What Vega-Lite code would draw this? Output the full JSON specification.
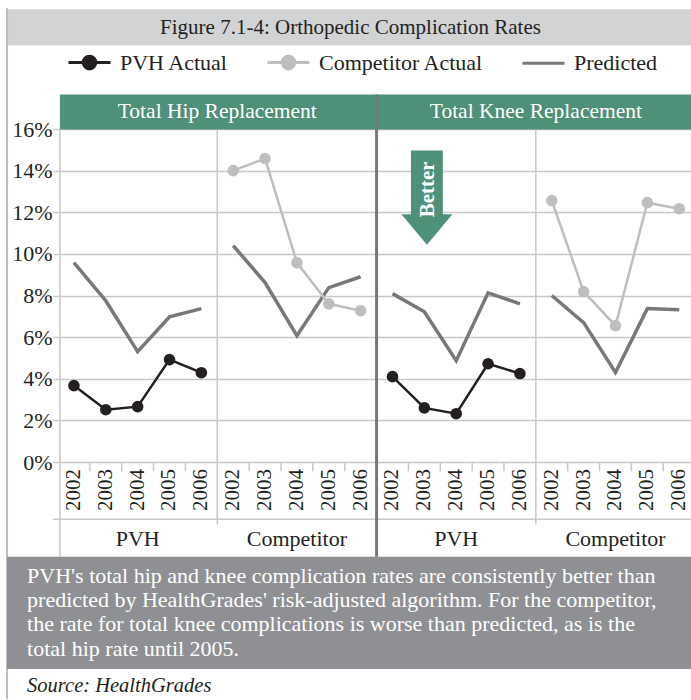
{
"$schema":"https://vega.github.io/schema/vega-lite/v6.json",
"autosize":{"type":"none"},
"padding":{"left":58,"top":129,"right":0,"bottom":238},
"width":633,"height":333,
"background":"white",
"view":{"stroke":null},
"config":{"font":"Liberation Serif","text":{"font":"Liberation Serif"}},
"title":{"text":"Figure 7.1-4: Orthopedic Complication Rates","font":"Liberation Serif","fontSize":21,"fontWeight":"normal","color":"#231f20","anchor":"middle","frame":"group","dx":-24,"offset":-31},
"data":{"values":[
{"panel":"Hip","group":"PVH","series":"PVH Actual","year":2002,"value":3.67},
{"panel":"Hip","group":"PVH","series":"PVH Actual","year":2003,"value":2.51},
{"panel":"Hip","group":"PVH","series":"PVH Actual","year":2004,"value":2.66},
{"panel":"Hip","group":"PVH","series":"PVH Actual","year":2005,"value":4.92},
{"panel":"Hip","group":"PVH","series":"PVH Actual","year":2006,"value":4.29},
{"panel":"Hip","group":"PVH","series":"Predicted","year":2002,"value":9.58},
{"panel":"Hip","group":"PVH","series":"Predicted","year":2003,"value":7.75},
{"panel":"Hip","group":"PVH","series":"Predicted","year":2004,"value":5.3},
{"panel":"Hip","group":"PVH","series":"Predicted","year":2005,"value":6.98},
{"panel":"Hip","group":"PVH","series":"Predicted","year":2006,"value":7.37},
{"panel":"Hip","group":"Competitor","series":"Competitor Actual","year":2002,"value":14.0},
{"panel":"Hip","group":"Competitor","series":"Competitor Actual","year":2003,"value":14.58},
{"panel":"Hip","group":"Competitor","series":"Competitor Actual","year":2004,"value":9.58},
{"panel":"Hip","group":"Competitor","series":"Competitor Actual","year":2005,"value":7.6},
{"panel":"Hip","group":"Competitor","series":"Competitor Actual","year":2006,"value":7.27},
{"panel":"Hip","group":"Competitor","series":"Predicted","year":2002,"value":10.4},
{"panel":"Hip","group":"Competitor","series":"Predicted","year":2003,"value":8.62},
{"panel":"Hip","group":"Competitor","series":"Predicted","year":2004,"value":6.07},
{"panel":"Hip","group":"Competitor","series":"Predicted","year":2005,"value":8.38},
{"panel":"Hip","group":"Competitor","series":"Predicted","year":2006,"value":8.9},
{"panel":"Knee","group":"PVH","series":"PVH Actual","year":2002,"value":4.1},
{"panel":"Knee","group":"PVH","series":"PVH Actual","year":2003,"value":2.6},
{"panel":"Knee","group":"PVH","series":"PVH Actual","year":2004,"value":2.32},
{"panel":"Knee","group":"PVH","series":"PVH Actual","year":2005,"value":4.72},
{"panel":"Knee","group":"PVH","series":"PVH Actual","year":2006,"value":4.25},
{"panel":"Knee","group":"PVH","series":"Predicted","year":2002,"value":8.09},
{"panel":"Knee","group":"PVH","series":"Predicted","year":2003,"value":7.22},
{"panel":"Knee","group":"PVH","series":"Predicted","year":2004,"value":4.87},
{"panel":"Knee","group":"PVH","series":"Predicted","year":2005,"value":8.13},
{"panel":"Knee","group":"PVH","series":"Predicted","year":2006,"value":7.6},
{"panel":"Knee","group":"Competitor","series":"Competitor Actual","year":2002,"value":12.56},
{"panel":"Knee","group":"Competitor","series":"Competitor Actual","year":2003,"value":8.19},
{"panel":"Knee","group":"Competitor","series":"Competitor Actual","year":2004,"value":6.55},
{"panel":"Knee","group":"Competitor","series":"Competitor Actual","year":2005,"value":12.46},
{"panel":"Knee","group":"Competitor","series":"Competitor Actual","year":2006,"value":12.17},
{"panel":"Knee","group":"Competitor","series":"Predicted","year":2002,"value":8.0},
{"panel":"Knee","group":"Competitor","series":"Predicted","year":2003,"value":6.7},
{"panel":"Knee","group":"Competitor","series":"Predicted","year":2004,"value":4.3},
{"panel":"Knee","group":"Competitor","series":"Predicted","year":2005,"value":7.37},
{"panel":"Knee","group":"Competitor","series":"Predicted","year":2006,"value":7.32}
]},
"transform":[{"calculate":"(datum.panel=='Knee'?10:0)+(datum.group=='Competitor'?5:0)+(datum.year-2002)+0.5","as":"pos"}],
"layer":[
{"data":{"values":[{}]},"transform":[],"mark":{"type":"rect","fill":"#d1d3d4"},
 "encoding":{"x":{"datum":-1.6,"type":"quantitative","scale":{"domain":[0,19.87],"nice":false,"zero":false},"axis":null},
  "x2":{"datum":19.87},
  "y":{"datum":20.03,"type":"quantitative","scale":{"domain":[0,16],"nice":false,"zero":false},
   "axis":{"values":[0,2,4,6,8,10,12,14,16],"labelExpr":"datum.value+'%'","labelFontSize":22,"labelColor":"#231f20","labelPadding":1,"tickSize":5,"tickColor":"#c8c8c8","tickWidth":1.5,"domain":false,"grid":true,"gridColor":"#c8c8c8","gridWidth":1.5,"title":null}},
  "y2":{"datum":21.75}}},
{"data":{"values":[{}]},"transform":[],"mark":{"type":"rule","stroke":"#bcbec0","strokeWidth":2},
 "encoding":{"x":{"datum":-1.6,"type":"quantitative"},"y":{"datum":21.8,"type":"quantitative"},"y2":{"datum":-11.4}}},
{"data":{"values":[{}]},"transform":[],"mark":{"type":"rect","fill":"#4f9078"},
 "encoding":{"x":{"datum":0.06,"type":"quantitative"},"x2":{"datum":19.87},"y":{"datum":15.97,"type":"quantitative"},"y2":{"datum":17.66}}},
{"data":{"values":[{}]},"transform":[],"mark":{"type":"rect","fill":"#8f9093"},
 "encoding":{"x":{"datum":-1.6,"type":"quantitative"},"x2":{"datum":19.87},"y":{"datum":-4.55,"type":"quantitative"},"y2":{"datum":-9.95}}},
{"data":{"values":[{}]},"transform":[],"mark":{"type":"rule","stroke":"#c8c8c8","strokeWidth":1.5},
 "encoding":{"x":{"datum":-0.16,"type":"quantitative"},"x2":{"datum":19.87},"y":{"datum":-2.75,"type":"quantitative"}}},
{"data":{"values":[{"b":1},{"b":2},{"b":3},{"b":4},{"b":6},{"b":7},{"b":8},{"b":9},{"b":11},{"b":12},{"b":13},{"b":14},{"b":16},{"b":17},{"b":18},{"b":19}]},"transform":[],
 "mark":{"type":"rule","stroke":"#c8c8c8","strokeWidth":1.5},
 "encoding":{"x":{"field":"b","type":"quantitative"},"y":{"datum":0,"type":"quantitative"},"y2":{"datum":-0.45}}},
{"data":{"values":[{"b":5},{"b":15}]},"transform":[],"mark":{"type":"rule","stroke":"#c8c8c8","strokeWidth":1.5},
 "encoding":{"x":{"field":"b","type":"quantitative"},"y":{"datum":15.95,"type":"quantitative"},"y2":{"datum":-3}}},
{"data":{"values":[{}]},"transform":[],"mark":{"type":"rule","stroke":"#c8c8c8","strokeWidth":1.5},
 "encoding":{"x":{"datum":0.06,"type":"quantitative"},"y":{"datum":15.95,"type":"quantitative"},"y2":{"datum":-4.55}}},
{"data":{"values":[{}]},"transform":[],"mark":{"type":"rule","stroke":"#77787b","strokeWidth":3},
 "encoding":{"x":{"datum":10,"type":"quantitative"},"y":{"datum":17.66,"type":"quantitative"},"y2":{"datum":-4.55}}},
{"mark":{"type":"text","angle":270,"align":"right","baseline":"middle","fontSize":21,"color":"#231f20"},"transform":[{"filter":"datum.series=='Predicted'"}],
 "encoding":{"x":{"field":"pos","type":"quantitative"},"y":{"datum":-0.34,"type":"quantitative"},"text":{"field":"year","type":"nominal"}}},
{"mark":{"type":"line","strokeWidth":3.5},"transform":[{"filter":"datum.series=='Predicted'"}],
 "encoding":{"x":{"field":"pos","type":"quantitative"},"y":{"field":"value","type":"quantitative"},
  "detail":[{"field":"panel"},{"field":"group"}],
  "color":{"field":"series","type":"nominal","scale":{"domain":["PVH Actual","Competitor Actual","Predicted"],"range":["#231f20","#bcbec0","#77787b"]},
   "legend":{"orient":"none","legendX":9,"legendY":-89,"direction":"horizontal","columns":3,"columnPadding":32,"title":null,"symbolType":"stroke","symbolSize":1764,"symbolStrokeWidth":3,"labelFont":"Liberation Serif","labelFontSize":22,"labelColor":"#231f20","labelLimit":300,"labelOffset":8,"symbolOpacity":1,
    "encode":{"symbols":{"update":{"shape":{"signal":"datum.value=='Predicted'?'stroke':'M-1,0L1,0M0.3,0A0.3,0.3 0 1 1 -0.3,0A0.3,0.3 0 1 1 0.3,0Z'"},"fill":{"signal":"datum.value=='Predicted'?'transparent':scale('color',datum.value)"}}}}}}}},
{"mark":{"type":"line","strokeWidth":2.5},"transform":[{"filter":"datum.series!='Predicted'"}],
 "encoding":{"x":{"field":"pos","type":"quantitative"},"y":{"field":"value","type":"quantitative"},
  "detail":[{"field":"panel"},{"field":"group"}],
  "color":{"field":"series","type":"nominal"}}},
{"mark":{"type":"point","filled":true,"size":135,"opacity":1},"transform":[{"filter":"datum.series!='Predicted'"}],
 "encoding":{"x":{"field":"pos","type":"quantitative"},"y":{"field":"value","type":"quantitative"},
  "color":{"field":"series","type":"nominal"}}},
{"data":{"values":[{"panel":"Hip","banner":"Total Hip Replacement"},{"panel":"Knee","banner":"Total Knee Replacement"}]},
 "transform":[{"calculate":"datum.panel=='Knee'?15:5","as":"c"}],
 "mark":{"type":"text","fontSize":21.5,"color":"white","baseline":"middle"},
 "encoding":{"x":{"field":"c","type":"quantitative"},"y":{"datum":16.82,"type":"quantitative"},"text":{"field":"banner"}}},
{"data":{"values":[{"panel":"Hip","group":"PVH"},{"panel":"Hip","group":"Competitor"},{"panel":"Knee","group":"PVH"},{"panel":"Knee","group":"Competitor"}]},
 "transform":[{"calculate":"(datum.panel=='Knee'?10:0)+(datum.group=='Competitor'?5:0)+2.5","as":"c"}],
 "mark":{"type":"text","fontSize":22,"color":"#231f20","baseline":"middle"},
 "encoding":{"x":{"field":"c","type":"quantitative"},"y":{"datum":-3.7,"type":"quantitative"},"text":{"field":"group"}}},
{"data":{"values":[{}]},"transform":[],"mark":{"type":"rect","fill":"#4f9078"},
 "encoding":{"x":{"datum":11.08,"type":"quantitative"},"x2":{"datum":12.08},"y":{"datum":14.97,"type":"quantitative"},"y2":{"datum":11.85}}},
{"data":{"values":[{}]},"transform":[],"mark":{"type":"point","filled":true,"fill":"#4f9078","opacity":1,"size":2601,"shape":"M-1,-0.6L1,-0.6L0,0.6Z"},
 "encoding":{"x":{"datum":11.58,"type":"quantitative"},"y":{"datum":11.17,"type":"quantitative"}}},
{"data":{"values":[{"note":"Better"}]},"transform":[],"mark":{"type":"text","angle":270,"fontSize":21,"fontWeight":"bold","color":"white","baseline":"middle","align":"center"},
 "encoding":{"x":{"datum":11.62,"type":"quantitative"},"y":{"datum":13.1,"type":"quantitative"},"text":{"field":"note"}}},
{"data":{"values":[{"note":"x"}]},"transform":[],"mark":{"type":"text","align":"left","baseline":"alphabetic","color":"white","fontSize":22,"lineHeight":24.3},
 "encoding":{"x":{"datum":-0.97,"type":"quantitative"},"y":{"datum":-5.8,"type":"quantitative"},
 "text":{"value":["PVH's total hip and knee complication rates are consistently better than","predicted by HealthGrades' risk-adjusted algorithm. For the competitor,","the rate for total knee complications is worse than predicted, as is the","total hip rate until 2005."]}}},
{"data":{"values":[{"note":"Source: HealthGrades"}]},"transform":[],"mark":{"type":"text","align":"left","baseline":"alphabetic","color":"#231f20","fontSize":20.5,"fontStyle":"italic"},
 "encoding":{"x":{"datum":-0.97,"type":"quantitative"},"y":{"datum":-11.05,"type":"quantitative"},"text":{"field":"note"}}}
]
}
